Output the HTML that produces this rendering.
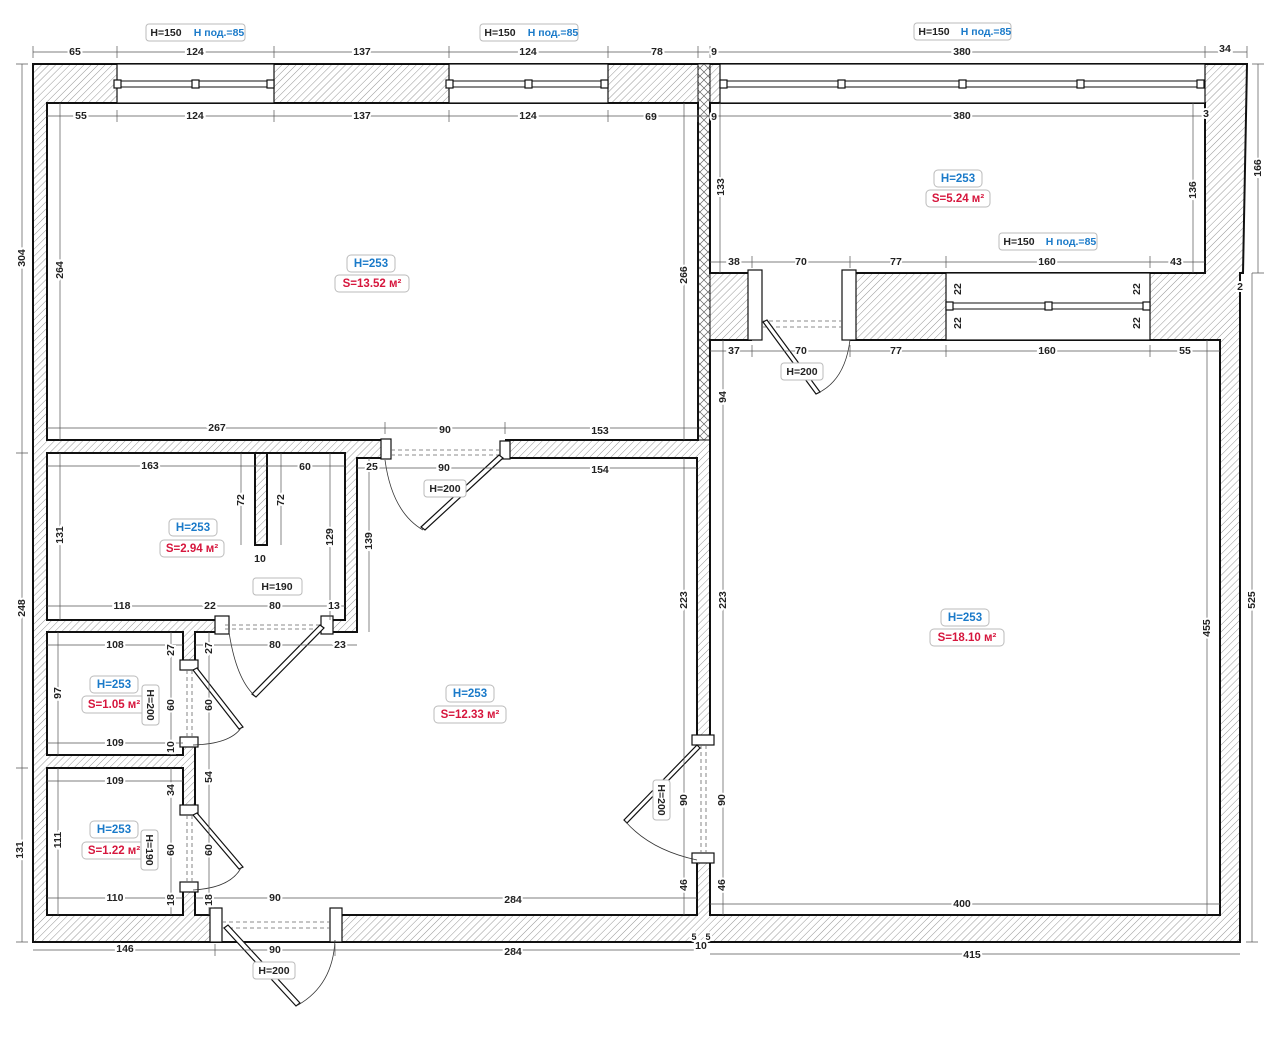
<!DOCTYPE html>
<html><head><meta charset="utf-8"><style>
html,body{margin:0;padding:0;background:#fff;}
svg{display:block;}
text{font-family:"Liberation Sans",sans-serif;font-size:10.5px;font-weight:bold;fill:#222;text-anchor:middle;dominant-baseline:central;}
.b{fill:#1a7ac9;font-size:11.5px}
.r{fill:#d6163d;font-size:11.5px}
.box{fill:#fff;stroke:#bbb;stroke-width:1;}
.dim{stroke:#555;stroke-width:0.7;fill:none}
.w{fill:url(#h);stroke:#111;stroke-width:2}
.rm{fill:#fff;stroke:#111;stroke-width:2}
.op{fill:#fff;stroke:none}
.win{fill:#fff;stroke:#111;stroke-width:1.2}
.leaf{fill:#fff;stroke:#111;stroke-width:1.2}
.arc{fill:none;stroke:#333;stroke-width:0.8}
.dash{stroke:#666;stroke-width:0.8;stroke-dasharray:4 3;fill:none}
</style></head><body>
<svg width="1280" height="1038" viewBox="0 0 1280 1038" xmlns="http://www.w3.org/2000/svg">
<defs>
<pattern id="h" width="5" height="5" patternUnits="userSpaceOnUse" patternTransform="rotate(45)">
<rect width="5" height="5" fill="#fff"/><line x1="0" y1="0" x2="0" y2="5" stroke="#8a8a8a" stroke-width="0.9"/></pattern>
<pattern id="x" width="8" height="8" patternUnits="userSpaceOnUse">
<rect width="8" height="8" fill="#fff"/><path d="M0 0L8 8M8 0L0 8" stroke="#666" stroke-width="0.7"/></pattern>
</defs>

<!-- outer walls -->
<polygon class="w" points="33,64 1247,64 1243,273 1240,273 1240,942 33,942"/>
<rect x="698" y="64" width="12" height="376" fill="url(#x)" stroke="#111" stroke-width="1"/>

<!-- rooms -->
<rect class="rm" x="47" y="103" width="651" height="337"/>
<polygon class="rm" points="710,103 1205,103 1205,273 710,273"/>
<rect class="rm" x="710" y="340" width="510" height="575"/>
<rect class="rm" x="47" y="453" width="298" height="167"/>
<rect class="w" x="255" y="453" width="12" height="92"/>
<polygon class="rm" points="357,458 697,458 697,915 195,915 195,632 357,632"/>
<rect class="rm" x="47" y="632" width="136" height="123"/>
<rect class="rm" x="47" y="768" width="136" height="147"/>

<!-- top windows -->
<g>
<rect class="win" x="117" y="64" width="157" height="39"/>
<rect class="win" x="449" y="64" width="159" height="39"/>
<rect class="win" x="720" y="64" width="485" height="39"/>
<rect class="win" x="946" y="273" width="204" height="67"/>
<path d="M117 81H274M117 87H274M449 81H608M449 87H608M720 81H1205M720 87H1205M946 303H1150M946 309H1150" stroke="#111" stroke-width="0.9"/>
<g class="leaf">
<rect x="114" y="80" width="7" height="8"/><rect x="192" y="80" width="7" height="8"/><rect x="267" y="80" width="7" height="8"/>
<rect x="446" y="80" width="7" height="8"/><rect x="525" y="80" width="7" height="8"/><rect x="601" y="80" width="7" height="8"/>
<rect x="720" y="80" width="7" height="8"/><rect x="838" y="80" width="7" height="8"/><rect x="959" y="80" width="7" height="8"/><rect x="1077" y="80" width="7" height="8"/><rect x="1197" y="80" width="7" height="8"/>
<rect x="946" y="302" width="7" height="8"/><rect x="1045" y="302" width="7" height="8"/><rect x="1143" y="302" width="7" height="8"/>
</g></g>

<!-- door openings -->
<rect class="op" x="385" y="439" width="120" height="20"/>
<rect class="op" x="215" y="619" width="115" height="14"/>
<rect class="op" x="696" y="740" width="15" height="120"/>
<rect class="op" x="182" y="660" width="14" height="85"/>
<rect class="op" x="182" y="805" width="14" height="85"/>
<rect class="op" x="215" y="914" width="120" height="27"/>
<rect class="op" x="752" y="272" width="98" height="69"/>
<g class="leaf">
<rect x="381" y="439" width="10" height="20"/><rect x="500" y="441" width="10" height="18"/>
<rect x="215" y="616" width="14" height="18"/><rect x="321" y="616" width="12" height="18"/>
<rect x="692" y="735" width="22" height="10"/><rect x="692" y="853" width="22" height="10"/>
<rect x="180" y="660" width="18" height="10"/><rect x="180" y="737" width="18" height="10"/>
<rect x="180" y="805" width="18" height="10"/><rect x="180" y="882" width="18" height="10"/>
<rect x="210" y="908" width="12" height="34"/><rect x="330" y="908" width="12" height="34"/>
<rect x="748" y="270" width="14" height="70"/><rect x="842" y="270" width="14" height="70"/>
</g>
<path class="dash" d="M391 450H500M391 455H500M225 625H322M225 629H322M701 745V853M706 745V853M187 670V737M192 670V737M187 815V882M192 815V882M222 922H330M222 928H330M762 321H842M762 327H842"/>
<!-- leaves -->
<g class="leaf">
<polygon points="499,455 503,458 425,530 421,527"/>
<polygon points="320,625 324,628 256,697 252,694"/>
<polygon points="697,745 700,748 627,823 624,820"/>
<polygon points="193,670 197,668 243,727 239,729"/>
<polygon points="193,815 197,813 243,867 239,869"/>
<polygon points="224,928 228,925 300,1003 296,1006"/>
<polygon points="763,322 767,320 820,392 816,394"/>
</g>
<path class="arc" d="M385 460Q392 512 423 530M229 632Q236 678 254 695M697 860Q650 850 625 821M193 745Q230 744 241 728M193 890Q230 888 241 868M335 940Q333 985 298 1005M850 340Q845 380 818 393"/>

<!-- dimension lines -->
<g class="dim">
<path d="M33 52H1247M33 46V58M117 46V58M274 46V58M449 46V58M608 46V58M698 46V58M710 46V58M1205 46V58M1247 46V58"/>
<path d="M47 116H1205M117 110V122M274 110V122M449 110V122M608 110V122M698 110V122"/>
<path d="M22 64V942M16 64H28M16 453H28M16 768H28M16 942H28"/>
<path d="M1258 64V273M1252 64H1264M1252 273H1264M1252 273V942M1246 942H1258"/>
<path d="M60 103V440M684 103V440M47 428H698M385 422V434M505 422V434"/>
<path d="M720 103V273M1193 103V273M710 262H1205M752 256V268M850 256V268M946 256V268M1150 256V268"/>
<path d="M710 351H1220M752 345V357M850 345V357M946 345V357M1150 345V357"/>
<path d="M723 340V915M1207 340V915M710 904H1220M684 458V915"/>
<path d="M33 950H697M710 954H1240M215 944V956M335 944V956"/>
<path d="M357 468H697M369 458V632M47 466H345M241 453V545M281 453V545M60 453V620M330 453V620M47 606H345"/>
<path d="M195 645H357M209 632V915M171 632V755M171 768V915M47 645H183M47 743H183M47 781H183M47 898H183M58 632V755M58 768V915M195 898H697"/>
</g>

<!-- label boxes -->
<g>
<rect class="box" x="146" y="24" width="99" height="17" rx="3"/><text x="166" y="33">H=150</text><text x="219" y="33" class="b" style="font-size:10.5px">H под.=85</text>
<rect class="box" x="480" y="24" width="98" height="17" rx="3"/><text x="500" y="33">H=150</text><text x="553" y="33" class="b" style="font-size:10.5px">H под.=85</text>
<rect class="box" x="914" y="23" width="97" height="17" rx="3"/><text x="934" y="32">H=150</text><text x="986" y="32" class="b" style="font-size:10.5px">H под.=85</text>
<rect class="box" x="999" y="233" width="98" height="17" rx="3"/><text x="1019" y="242">H=150</text><text x="1071" y="242" class="b" style="font-size:10.5px">H под.=85</text>
</g>
<g>
<rect class="box" x="347" y="255" width="48" height="17" rx="4"/><text x="371" y="264" class="b">H=253</text>
<rect class="box" x="335" y="275" width="74" height="17" rx="4"/><text x="372" y="284" class="r">S=13.52 м²</text>
<rect class="box" x="934" y="170" width="48" height="17" rx="4"/><text x="958" y="179" class="b">H=253</text>
<rect class="box" x="926" y="190" width="64" height="17" rx="4"/><text x="958" y="199" class="r">S=5.24 м²</text>
<rect class="box" x="941" y="609" width="48" height="17" rx="4"/><text x="965" y="618" class="b">H=253</text>
<rect class="box" x="930" y="629" width="74" height="17" rx="4"/><text x="967" y="638" class="r">S=18.10 м²</text>
<rect class="box" x="446" y="685" width="48" height="17" rx="4"/><text x="470" y="694" class="b">H=253</text>
<rect class="box" x="434" y="706" width="72" height="17" rx="4"/><text x="470" y="715" class="r">S=12.33 м²</text>
<rect class="box" x="169" y="519" width="48" height="17" rx="4"/><text x="193" y="528" class="b">H=253</text>
<rect class="box" x="160" y="540" width="64" height="17" rx="4"/><text x="192" y="549" class="r">S=2.94 м²</text>
<rect class="box" x="90" y="676" width="48" height="17" rx="4"/><text x="114" y="685" class="b">H=253</text>
<rect class="box" x="82" y="696" width="64" height="17" rx="4"/><text x="114" y="705" class="r">S=1.05 м²</text>
<rect class="box" x="90" y="821" width="48" height="17" rx="4"/><text x="114" y="830" class="b">H=253</text>
<rect class="box" x="82" y="842" width="64" height="17" rx="4"/><text x="114" y="851" class="r">S=1.22 м²</text>
<rect class="box" x="253" y="578" width="49" height="17" rx="3"/><text x="277" y="587">H=190</text>
<rect class="box" x="424" y="480" width="42" height="17" rx="3"/><text x="445" y="489">H=200</text>
<rect class="box" x="781" y="363" width="42" height="17" rx="3"/><text x="802" y="372">H=200</text>
<rect class="box" x="253" y="962" width="42" height="17" rx="3"/><text x="274" y="971">H=200</text>
<rect class="box" x="142" y="685" width="17" height="40" rx="3"/><text transform="translate(150,705) rotate(90)">H=200</text>
<rect class="box" x="141" y="830" width="17" height="40" rx="3"/><text transform="translate(149,850) rotate(90)">H=190</text>
<rect class="box" x="653" y="780" width="17" height="40" rx="3"/><text transform="translate(661,800) rotate(90)">H=200</text>
</g>

<!-- dimension text (white bg via stroke) -->
<g style="paint-order:stroke;stroke:#fff;stroke-width:4px">
<text x="75" y="52">65</text><text x="195" y="52">124</text><text x="362" y="52">137</text><text x="528" y="52">124</text><text x="657" y="52">78</text><text x="714" y="52">9</text><text x="962" y="52">380</text><text x="1225" y="49">34</text>
<text x="81" y="116">55</text><text x="195" y="116">124</text><text x="362" y="116">137</text><text x="528" y="116">124</text><text x="651" y="117">69</text><text x="714" y="117">9</text><text x="962" y="116">380</text><text x="1206" y="114">3</text>
<text transform="translate(22,258) rotate(-90)">304</text><text transform="translate(22,608) rotate(-90)">248</text><text transform="translate(20,850) rotate(-90)">131</text>
<text transform="translate(1258,168) rotate(-90)">166</text><text transform="translate(1252,600) rotate(-90)">525</text><text x="1240" y="287">2</text>
<text transform="translate(60,270) rotate(-90)">264</text><text transform="translate(684,275) rotate(-90)">266</text>
<text x="217" y="428">267</text><text x="445" y="430">90</text><text x="600" y="431">153</text>
<text transform="translate(721,187) rotate(-90)">133</text><text transform="translate(1193,190) rotate(-90)">136</text>
<text x="734" y="262">38</text><text x="801" y="262">70</text><text x="896" y="262">77</text><text x="1047" y="262">160</text><text x="1176" y="262">43</text>
<text transform="translate(958,289) rotate(-90)">22</text><text transform="translate(958,323) rotate(-90)">22</text><text transform="translate(1137,289) rotate(-90)">22</text><text transform="translate(1137,323) rotate(-90)">22</text>
<text x="734" y="351">37</text><text x="801" y="351">70</text><text x="896" y="351">77</text><text x="1047" y="351">160</text><text x="1185" y="351">55</text>
<text transform="translate(723,397) rotate(-90)">94</text><text transform="translate(723,600) rotate(-90)">223</text><text transform="translate(1207,628) rotate(-90)">455</text>
<text transform="translate(722,800) rotate(-90)">90</text><text transform="translate(722,885) rotate(-90)">46</text><text x="962" y="904">400</text>
<text x="125" y="949">146</text><text x="275" y="950">90</text><text x="513" y="952">284</text><text x="972" y="955">415</text>
<text x="694" y="937" style="font-size:9px">5</text><text x="708" y="937" style="font-size:9px">5</text><text x="701" y="946">10</text>
<text x="372" y="467">25</text><text x="444" y="468">90</text><text x="600" y="470">154</text><text transform="translate(369,541) rotate(-90)">139</text>
<text transform="translate(684,600) rotate(-90)">223</text><text transform="translate(684,800) rotate(-90)">90</text><text transform="translate(684,885) rotate(-90)">46</text>
<text x="275" y="898">90</text><text x="513" y="900">284</text>
<text x="275" y="645">80</text><text x="340" y="645">23</text>
<text transform="translate(209,648) rotate(-90)">27</text><text transform="translate(209,705) rotate(-90)">60</text><text transform="translate(209,777) rotate(-90)">54</text><text transform="translate(209,850) rotate(-90)">60</text><text transform="translate(209,900) rotate(-90)">18</text>
<text x="150" y="466">163</text><text x="305" y="467">60</text><text transform="translate(241,500) rotate(-90)">72</text><text transform="translate(281,500) rotate(-90)">72</text><text x="260" y="559">10</text>
<text transform="translate(60,535) rotate(-90)">131</text><text transform="translate(330,537) rotate(-90)">129</text>
<text x="122" y="606">118</text><text x="210" y="606">22</text><text x="275" y="606">80</text><text x="334" y="606">13</text>
<text x="115" y="645">108</text><text transform="translate(58,693) rotate(-90)">97</text><text transform="translate(171,705) rotate(-90)">60</text><text transform="translate(171,650) rotate(-90)">27</text><text x="115" y="743">109</text><text transform="translate(171,747) rotate(-90)">10</text>
<text x="115" y="781">109</text><text transform="translate(58,840) rotate(-90)">111</text><text transform="translate(171,850) rotate(-90)">60</text><text transform="translate(171,790) rotate(-90)">34</text><text x="115" y="898">110</text><text transform="translate(171,900) rotate(-90)">18</text>
</g>
</svg>
</body></html>
